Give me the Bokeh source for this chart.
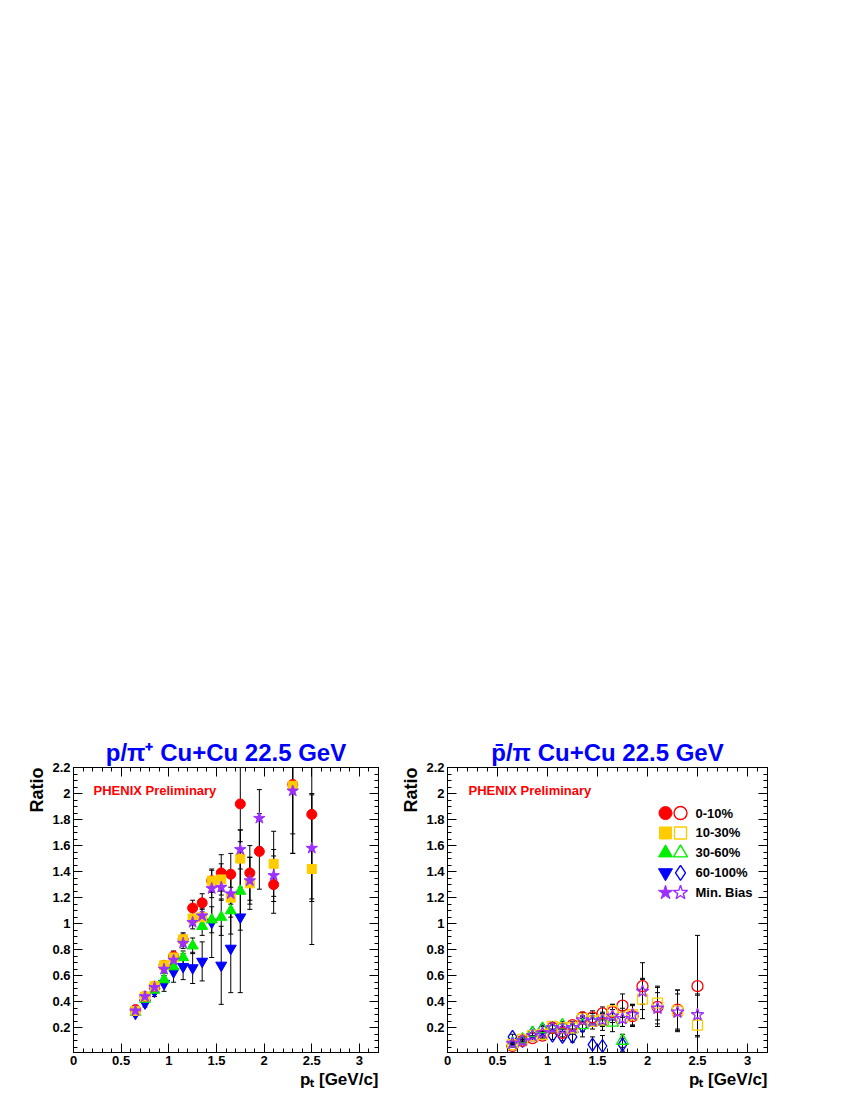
from bokeh.plotting import figure
from bokeh.models import (Range1d, LinearAxis, Label, ColumnDataSource, Spacer, Title,
                          SingleIntervalTicker, NumeralTickFormatter, CustomJSTickFormatter)
from bokeh.layouts import column, row
from bokeh.embed import file_html
from bokeh.resources import INLINE
from bokeh.core.properties import value

# ---------------- data ----------------
pt_full = [0.65, 0.75, 0.85, 0.95, 1.05, 1.15, 1.25, 1.35, 1.45, 1.55, 1.65, 1.75, 1.85, 1.95, 2.10, 2.30, 2.50]
pt_noq = [0.65, 0.75, 0.85, 0.95, 1.05, 1.15, 1.25, 1.35, 1.45, 1.55, 1.65, 1.75, 1.85, 2.10, 2.30, 2.50]
pt_low = [0.65, 0.75, 0.85, 0.95, 1.05, 1.15, 1.25, 1.35, 1.45, 1.55, 1.65, 1.75]
pt_pbar_60 = [0.65, 0.75, 0.85, 0.95, 1.05, 1.15, 1.25, 1.35, 1.45, 1.55, 1.75]

# p / pi+  (filled markers)
p_0_10 = [0.34, 0.44, 0.52, 0.68, 0.75, 0.88, 1.12, 1.16, 1.33, 1.39, 1.38, 1.92, 1.39, 1.555, 1.30, 2.07, 1.84]
p_0_10_err = [0.02, 0.02, 0.03, 0.03, 0.04, 0.05, 0.06, 0.07, 0.09, 0.14, 0.16, 0.45, 0.21, 0.29, 0.22, 0.38, 0.65]
p_10_30 = [0.33, 0.44, 0.52, 0.68, 0.74, 0.88, 1.04, 1.05, 1.33, 1.34, 1.20, 1.50, 1.31, 1.46, 2.06, 1.42]
p_10_30_err = [0.02, 0.02, 0.03, 0.03, 0.04, 0.04, 0.05, 0.06, 0.08, 0.12, 0.15, 0.22, 0.20, 0.25, 0.52, 0.58]
p_30_60 = [0.32, 0.42, 0.49, 0.57, 0.67, 0.74, 0.83, 0.98, 1.03, 1.05, 1.10, 1.25]
p_30_60_err = [0.02, 0.02, 0.02, 0.03, 0.04, 0.05, 0.06, 0.07, 0.10, 0.14, 0.18, 0.30]
p_60_100 = [0.31, 0.39, 0.48, 0.54, 0.63, 0.67, 0.66, 0.71, 1.01, 0.68, 0.81, 1.05]
p_60_100_err = [0.02, 0.03, 0.04, 0.06, 0.08, 0.10, 0.12, 0.15, 0.27, 0.30, 0.34, 0.58]
p_mb = [0.33, 0.44, 0.51, 0.65, 0.72, 0.85, 1.01, 1.06, 1.27, 1.28, 1.23, 1.57, 1.33, 1.81, 1.37, 2.02, 1.58]
p_mb_err = [0.01, 0.02, 0.02, 0.03, 0.03, 0.04, 0.05, 0.06, 0.07, 0.10, 0.12, 0.15, 0.18, 0.22, 0.20, 0.48, 0.41]

# pbar / pi  (open markers)
pb_0_10 = [0.06, 0.10, 0.12, 0.14, 0.20, 0.16, 0.22, 0.28, 0.28, 0.31, 0.32, 0.37, 0.29, 0.52, 0.36, 0.34, 0.52]
pb_0_10_err = [0.01, 0.01, 0.02, 0.02, 0.02, 0.03, 0.03, 0.04, 0.05, 0.05, 0.06, 0.09, 0.08, 0.18, 0.15, 0.15, 0.39]
pb_10_30 = [0.07, 0.11, 0.14, 0.15, 0.21, 0.20, 0.20, 0.27, 0.25, 0.26, 0.33, 0.28, 0.30, 0.42, 0.39, 0.33, 0.22]
pb_10_30_err = [0.01, 0.01, 0.02, 0.02, 0.02, 0.03, 0.03, 0.04, 0.04, 0.05, 0.05, 0.07, 0.08, 0.15, 0.13, 0.16, 0.23]
pb_30_60 = [0.08, 0.11, 0.16, 0.19, 0.19, 0.22, 0.19, 0.22, 0.25, 0.25, 0.24, 0.10]
pb_30_60_err = [0.01, 0.02, 0.02, 0.02, 0.03, 0.03, 0.04, 0.05, 0.06, 0.07, 0.07, 0.05]
pb_60_100 = [0.13, 0.10, 0.16, 0.19, 0.14, 0.13, 0.13, 0.21, 0.07, 0.06, 0.07]
pb_60_100_err = [0.02, 0.02, 0.02, 0.03, 0.03, 0.03, 0.04, 0.08, 0.06, 0.08, 0.05]
pb_mb = [0.08, 0.10, 0.14, 0.16, 0.20, 0.19, 0.20, 0.26, 0.25, 0.26, 0.29, 0.27, 0.30, 0.48, 0.35, 0.32, 0.30]
pb_mb_err = [0.01, 0.01, 0.02, 0.02, 0.02, 0.02, 0.03, 0.03, 0.04, 0.04, 0.05, 0.06, 0.08, 0.10, 0.12, 0.14, 0.16]

legend_labels = ["0-10%", "10-30%", "30-60%", "60-100%", "Min. Bias"]
colors = ["#ff0000", "#ffcc00", "#00ee00", "#0000ff", "#9b30ff"]
filled_markers = ["circle", "square", "triangle", "inverted_triangle", "star"]
open_markers = ["circle", "square", "triangle", "diamond", "star"]
filled_sizes = [10, 9, 11, 11, 12]
open_sizes = [11, 10, 12, 13, 13]

FONT = "Liberation Sans"
TITLE_BLUE = "#0000ff"


def style_axis(ax, show_labels):
    ax.major_tick_in = 9
    ax.major_tick_out = 0
    ax.minor_tick_in = 4
    ax.minor_tick_out = 0
    ax.axis_line_color = "black"
    ax.major_tick_line_color = "black"
    ax.minor_tick_line_color = "black"
    ax.major_label_text_font = FONT
    ax.major_label_text_font_style = "bold"
    ax.major_label_text_color = "black"
    if show_labels:
        ax.major_label_text_font_size = "13px"
        ax.major_label_standoff = 3
        ax.formatter = NumeralTickFormatter(format="0.[0]")
    else:
        ax.major_label_text_font_size = "1px"
        ax.major_label_standoff = 0
        ax.formatter = CustomJSTickFormatter(code="return ''")


def make_panel(title_text, bl, fw, br):
    p = figure(frame_width=fw, frame_height=285,
               x_range=Range1d(0, 3.2), y_range=Range1d(0.01, 2.2),
               output_backend="svg", toolbar_location=None,
               min_border_left=bl, min_border_right=br,
               min_border_top=39, min_border_bottom=48,
               x_axis_type=None, y_axis_type=None)
    p.xgrid.visible = False
    p.ygrid.visible = False
    p.outline_line_color = "black"
    p.outline_line_width = 1
    p.background_fill_color = "white"
    p.border_fill_color = "white"

    xb = LinearAxis(ticker=SingleIntervalTicker(interval=0.5, num_minor_ticks=5))
    style_axis(xb, True)
    p.add_layout(xb, "below")

    xt = LinearAxis(ticker=SingleIntervalTicker(interval=0.5, num_minor_ticks=5))
    style_axis(xt, False)
    p.add_layout(xt, "above")

    yl = LinearAxis(ticker=SingleIntervalTicker(interval=0.2, num_minor_ticks=4))
    style_axis(yl, True)
    p.add_layout(yl, "left")

    yr = LinearAxis(ticker=SingleIntervalTicker(interval=0.2, num_minor_ticks=4))
    style_axis(yr, False)
    p.add_layout(yr, "right")

    p.add_layout(Title(text="p\u209c [GeV/c]", align="right", text_font=FONT,
                       text_font_style="bold", text_font_size="17px", text_color="black",
                       standoff=0), "below")
    p.add_layout(Title(text="Ratio", align="right", text_font=FONT,
                       text_font_style="bold", text_font_size="18px", text_color="black",
                       standoff=6), "left")

    p.title.text = title_text
    p.title.align = "center"
    p.title.text_font = FONT
    p.title.text_font_style = "bold"
    p.title.text_font_size = "24px"
    p.title.text_color = TITLE_BLUE
    p.title.standoff = 4

    p.add_layout(Label(x=0.21, y=2.02, text="PHENIX Preliminary", text_align="left",
                       text_baseline="middle", text_font=FONT, text_font_style="bold",
                       text_font_size="13px", text_color="#ff0000"))
    return p


def add_series(p, xs, ys, errs):
    lo = [y - e for y, e in zip(ys, errs)]
    hi = [y + e for y, e in zip(ys, errs)]
    src = ColumnDataSource(dict(x=xs, y=ys, lo=lo, hi=hi))
    p.segment(x0="x", y0="lo", x1="x", y1="hi", source=src, line_color="black", line_width=1)
    p.scatter(x="x", y="lo", source=src, marker="dash", size=5, line_color="black", line_width=1)
    p.scatter(x="x", y="hi", source=src, marker="dash", size=5, line_color="black", line_width=1)
    return src


def add_markers(p, src, color, marker, size, filled):
    if filled:
        p.scatter(x="x", y="y", source=src, marker=marker, size=size,
                  fill_color=color, line_color=color, line_width=1)
    else:
        p.scatter(x="x", y="y", source=src, marker=marker, size=size,
                  fill_color=None, line_color=color, line_width=1.3)


left = make_panel("p/\u03c0\u207a Cu+Cu 22.5 GeV", 73, 305, 17)
right = make_panel("p\u0304/\u03c0 Cu+Cu 22.5 GeV", 52, 320, 30)

left_series = [
    (pt_full, p_0_10, p_0_10_err),
    (pt_noq, p_10_30, p_10_30_err),
    (pt_low, p_30_60, p_30_60_err),
    (pt_low, p_60_100, p_60_100_err),
    (pt_full, p_mb, p_mb_err),
]
right_series = [
    (pt_full, pb_0_10, pb_0_10_err),
    (pt_full, pb_10_30, pb_10_30_err),
    (pt_low, pb_30_60, pb_30_60_err),
    (pt_pbar_60, pb_60_100, pb_60_100_err),
    (pt_full, pb_mb, pb_mb_err),
]
draw_order = [3, 2, 0, 1, 4]

for p, series, filled, sizes, markers in ((left, left_series, True, filled_sizes, filled_markers),
                                          (right, right_series, False, open_sizes, open_markers)):
    srcs = {}
    for i in draw_order:
        xs, ys, es = series[i]
        srcs[i] = add_series(p, xs, ys, es)
    for i in draw_order:
        add_markers(p, srcs[i], colors[i], markers[i], sizes[i], filled)

# legend (right panel): filled + open symbol pairs
leg_x_filled, leg_x_open, leg_x_text = 2.18, 2.33, 2.48
leg_top, leg_step = 1.85, 0.153
for i, lab in enumerate(legend_labels):
    yy = leg_top - i * leg_step
    right.scatter(x=[leg_x_filled], y=[yy], marker=filled_markers[i], size=filled_sizes[i] + 3,
                  fill_color=colors[i], line_color=colors[i])
    right.scatter(x=[leg_x_open], y=[yy], marker=open_markers[i], size=open_sizes[i] + 2,
                  fill_color=None, line_color=colors[i], line_width=1.4)
    right.text(x=[leg_x_text], y=[yy], text=[lab], text_align="left", text_baseline="middle",
               text_font=value(FONT), text_font_style="bold", text_font_size="13px",
               text_color="black")

layout = column(Spacer(height=728, width=10), row(left, right))
open("out.html", "w").write(file_html(layout, INLINE))
